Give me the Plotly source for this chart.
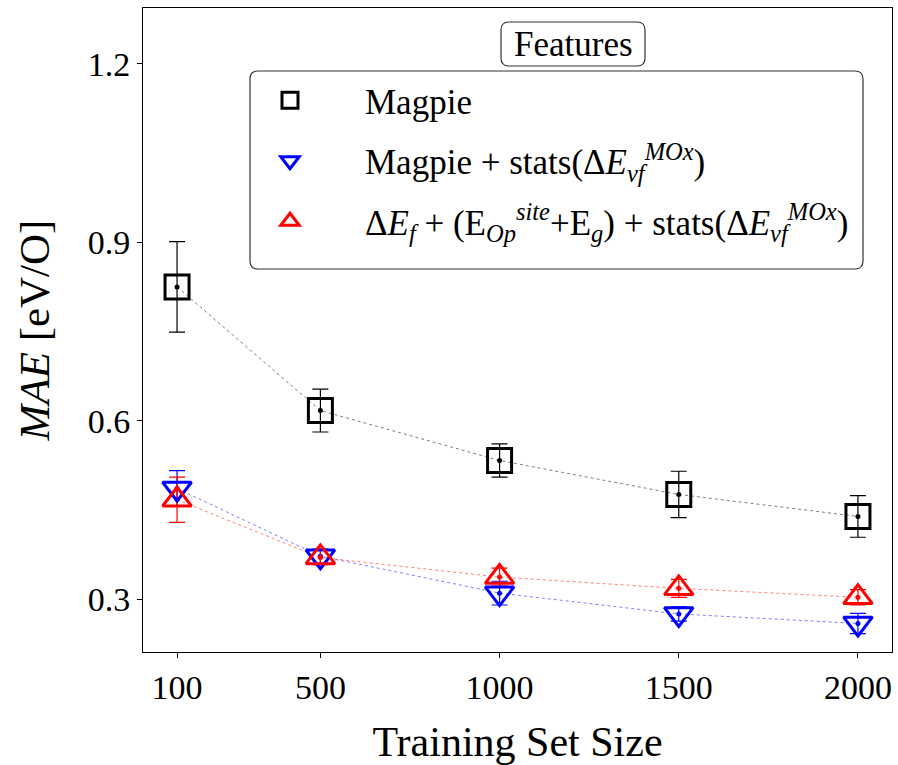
import plotly.graph_objects as go

train_sizes = [100, 500, 1000, 1500, 2000]

magpie_mae = [0.825, 0.617, 0.533, 0.476, 0.439]
magpie_err = [0.076, 0.036, 0.028, 0.039, 0.035]

magpie_stats_mae = [0.486, 0.372, 0.310, 0.275, 0.259]
magpie_stats_err = [0.030, 0.012, 0.020, 0.012, 0.017]

ef_op_stats_mae = [0.467, 0.370, 0.337, 0.318, 0.303]
ef_op_stats_err = [0.038, 0.012, 0.015, 0.015, 0.013]

PAD = "\u00a0" * 4
series_names = [
    PAD + "Magpie",
    PAD + "Magpie + stats(Δ<i>E</i><sub><i>vf</i></sub><sup><i>MOx</i></sup>)",
    PAD + "Δ<i>E</i><sub><i>f</i></sub> + (E<sub><i>Op</i></sub><sup><i>site</i></sup>+E<sub><i>g</i></sub>) + stats(Δ<i>E</i><sub><i>vf</i></sub><sup><i>MOx</i></sup>)",
]
series_vals = [magpie_mae, magpie_stats_mae, ef_op_stats_mae]
series_errs = [magpie_err, magpie_stats_err, ef_op_stats_err]
colors = ["black", "blue", "red"]
line_colors = ["rgba(0,0,0,0.5)", "rgba(0,0,255,0.5)", "rgba(255,0,0,0.5)"]
symbols = ["square-open", "triangle-down-open", "triangle-up-open"]
sizes = [24, 25, 25]

FONT = "Liberation Serif"

# plot area in pixels (for placing legend frames)
L, R, T, B = 143, 892, 8, 652
W, H = 898, 765


def px(x):
    return (x - L) / (R - L)


def py(y):
    return 1.0 - (y - T) / (B - T)


def rounded_rect(x0, y0, x1, y1, r=8):
    X0, X1 = px(x0), px(x1)
    Y0, Y1 = py(y0), py(y1)
    rx = r / (R - L)
    ry = r / (B - T)
    return (f"M {X0+rx},{Y0} L {X1-rx},{Y0} Q {X1},{Y0} {X1},{Y0-ry} "
            f"L {X1},{Y1+ry} Q {X1},{Y1} {X1-rx},{Y1} "
            f"L {X0+rx},{Y1} Q {X0},{Y1} {X0},{Y1+ry} "
            f"L {X0},{Y0-ry} Q {X0},{Y0} {X0+rx},{Y0} Z")


fig = go.Figure()
for i in range(3):
    # connecting dotted line + error bars + centre dot
    fig.add_trace(go.Scatter(
        x=train_sizes, y=series_vals[i], mode="lines+markers",
        line=dict(color=line_colors[i], width=1, dash="dot"),
        marker=dict(color=colors[i], size=5, symbol="circle"),
        error_y=dict(type="data", array=series_errs[i], visible=True,
                     color=colors[i], thickness=1.2, width=8),
        showlegend=False, hoverinfo="skip",
    ))
for i in range(3):
    fig.add_trace(go.Scatter(
        x=train_sizes, y=series_vals[i], mode="markers",
        name=series_names[i], legendgroup=f"g{i}",
        marker=dict(symbol=symbols[i], size=sizes[i],
                    line=dict(color=colors[i], width=3), color=colors[i]),
    ))

# legend frame and "Features" title frame (rounded boxes)
fig.add_shape(type="path", xref="paper", yref="paper", layer="above",
              path=rounded_rect(250, 71, 863, 269, r=8),
              line=dict(color="#333333", width=1.2), fillcolor="white")
fig.add_shape(type="path", xref="paper", yref="paper", layer="above",
              path=rounded_rect(501, 22, 645, 66, r=8),
              line=dict(color="#333333", width=1.2), fillcolor="white")

fig.add_annotation(
    text="Features", xref="paper", yref="paper", x=px(573), y=py(44),
    xanchor="center", yanchor="middle", showarrow=False,
    font=dict(family=FONT, size=35, color="black"),
)

fig.update_layout(
    width=W, height=H,
    margin=dict(l=L, r=W - R, t=T, b=H - B),
    paper_bgcolor="white", plot_bgcolor="white",
    font=dict(family=FONT, size=34, color="black"),
    showlegend=True,
    legend=dict(
        x=px(250), y=py(71), xanchor="left", yanchor="top",
        borderwidth=0, bgcolor="rgba(0,0,0,0)",
        font=dict(family=FONT, size=35, color="black"),
        itemwidth=70, tracegroupgap=12,
    ),
    xaxis=dict(
        range=[5, 2095], tickvals=train_sizes, ticktext=[str(v) for v in train_sizes],
        showgrid=False, zeroline=False, showline=True, mirror=True,
        linecolor="black", linewidth=1, ticks="outside", ticklen=5, tickcolor="black",
        tickfont=dict(family=FONT, size=34),
        title=dict(text="Training Set Size", font=dict(family=FONT, size=42), standoff=22),
    ),
    yaxis=dict(
        range=[0.211, 1.294], tickvals=[0.3, 0.6, 0.9, 1.2],
        ticktext=["0.3", "0.6", "0.9", "1.2"],
        showgrid=False, zeroline=False, showline=True, mirror=True,
        linecolor="black", linewidth=1, ticks="outside", ticklen=5, tickcolor="black",
        tickfont=dict(family=FONT, size=34),
        title=dict(text="<i>MAE</i> [eV/O]", font=dict(family=FONT, size=43), standoff=24),
    ),
)

fig.write_html("out.html")
